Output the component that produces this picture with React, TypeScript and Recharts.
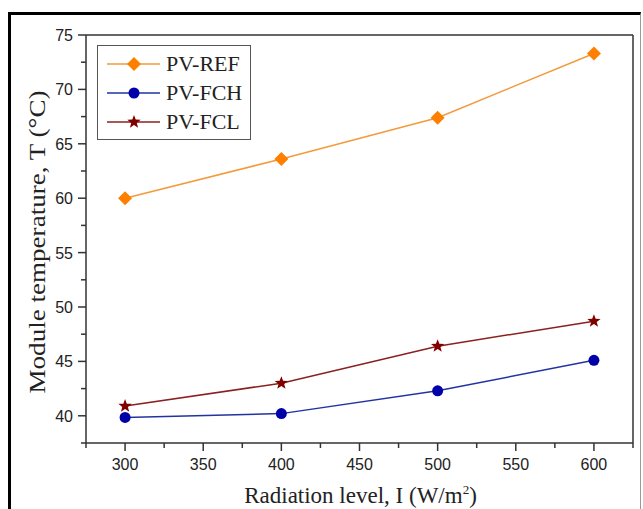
import React from "react";
import { LineChart, Line, XAxis, YAxis, Legend, ReferenceLine } from "recharts";

// radiation level, W/m2
const radiation = [300, 400, 500, 600];

// module temperature, deg C
const pvRef = [60.0, 63.6, 67.4, 73.3];
const pvFch = [39.85, 40.2, 42.3, 45.1];
const pvFcl = [40.9, 43.0, 46.4, 48.7];

const seriesOrder = ["ref", "fch", "fcl"];
const seriesNames = ["PV-REF", "PV-FCH", "PV-FCL"];

const xTicks = [275, 300, 325, 350, 375, 400, 425, 450, 475, 500, 525, 550, 575, 600, 625];
const yTicks = [37.5, 40, 42.5, 45, 47.5, 50, 52.5, 55, 57.5, 60, 62.5, 65, 67.5, 70, 72.5, 75];

const data = radiation.map((r, i) => ({
  radiation: r,
  ref: pvRef[i],
  fch: pvFch[i],
  fcl: pvFcl[i],
}));

const SANS = "'Liberation Sans', Arial, sans-serif";
const SERIF = "'Liberation Serif', 'Times New Roman', serif";
const AXIS = "#333";

const REF_COLOR = "#ff7f00";
const FCH_COLOR = "#0000a8";
const FCL_COLOR = "#800000";

function Diamond({ cx, cy, r = 7, fill }: any) {
  if (cx == null || cy == null) return null;
  return <path d={`M${cx},${cy - r}L${cx + r},${cy}L${cx},${cy + r}L${cx - r},${cy}Z`} fill={fill} />;
}

function Circle({ cx, cy, r = 5.5, fill }: any) {
  if (cx == null || cy == null) return null;
  return <circle cx={cx} cy={cy} r={r} fill={fill} />;
}

function Star({ cx, cy, r = 7, fill }: any) {
  if (cx == null || cy == null) return null;
  const pts: string[] = [];
  for (let k = 0; k < 10; k++) {
    const rad = k % 2 === 0 ? r : r * 0.42;
    const a = -Math.PI / 2 + (k * Math.PI) / 5;
    pts.push(`${cx + rad * Math.cos(a)},${cy + rad * Math.sin(a)}`);
  }
  return <polygon points={pts.join(" ")} fill={fill} />;
}

const markers: Record<string, any> = {
  ref: { shape: Diamond, color: REF_COLOR, line: "#f39a3c" },
  fch: { shape: Circle, color: FCH_COLOR, line: "#2233a0" },
  fcl: { shape: Star, color: FCL_COLOR, line: "#8a2020" },
};

function XTick({ x, y, payload }: any) {
  const v = payload.value;
  const major = v % 50 === 0 && v !== 275 && v !== 625;
  return (
    <g>
      <line x1={x} y1={y} x2={x} y2={y + (major ? 8 : 5)} stroke={AXIS} strokeWidth={1.5} />
      {major && (
        <text x={x} y={y + 27} textAnchor="middle" fontFamily={SANS} fontSize={16} fill="#222">
          {v}
        </text>
      )}
    </g>
  );
}

function YTick({ x, y, payload }: any) {
  const v = payload.value;
  const major = v % 5 === 0;
  return (
    <g>
      <line x1={x} y1={y} x2={x - (major ? 8 : 5)} y2={y} stroke={AXIS} strokeWidth={1.5} />
      {major && (
        <text x={x - 13} y={y + 6} textAnchor="end" fontFamily={SANS} fontSize={16} fill="#222">
          {v}
        </text>
      )}
    </g>
  );
}

function YTitle({ viewBox }: any) {
  const cx = viewBox.x + 45;
  const cy = viewBox.y + viewBox.height / 2 + 3;
  return (
    <text
      x={cx}
      y={cy}
      transform={`rotate(-90, ${cx}, ${cy})`}
      textAnchor="middle"
      fontFamily={SERIF}
      fontSize={24}
      textLength={303}
      lengthAdjust="spacingAndGlyphs"
      fill="#222"
    >
      Module temperature, T (°C)
    </text>
  );
}

function XTitle({ viewBox }: any) {
  const cx = viewBox.x + viewBox.width / 2 + 1;
  const cy = viewBox.y + 60;
  return (
    <text x={cx} y={cy} textAnchor="middle" fontFamily={SERIF} fontSize={23} fill="#222">
      Radiation level, I (W/m
      <tspan dy={-9} fontSize={13}>2</tspan>
      <tspan dy={9}>)</tspan>
    </text>
  );
}

function LegendBox({ payload }: any) {
  const items = seriesOrder
    .map((key) => (payload || []).find((e: any) => e.dataKey === key))
    .filter(Boolean);
  return (
    <div
      style={{
        border: "1.5px solid #555",
        padding: "3px 0 3px 0",
        background: "#fff",
        width: 154,
        boxSizing: "border-box",
      }}
    >
      {items.map((entry: any) => {
        const m = markers[entry.dataKey];
        const Shape = m.shape;
        return (
          <div key={entry.dataKey} style={{ display: "flex", alignItems: "center", height: 29 }}>
            <svg width={68} height={20} style={{ flex: "none" }}>
              <line x1={9} y1={10} x2={62} y2={10} stroke={m.line} strokeWidth={1.5} />
              <Shape cx={36} cy={10} fill={m.color} />
            </svg>
            <span style={{ fontFamily: SERIF, fontSize: 22, color: "#222", lineHeight: "22px" }}>
              {entry.value}
            </span>
          </div>
        );
      })}
    </div>
  );
}

export default function App() {
  return (
    <div style={{ position: "absolute", left: 0, top: 0, width: 643, height: 509, background: "#fff" }}>
      <div
        style={{
          position: "absolute",
          left: 8,
          top: 12,
          width: 633,
          height: 520,
          borderLeft: "3px solid #000",
          borderTop: "3px solid #000",
          borderRight: "1.5px solid #999",
          boxSizing: "border-box",
        }}
      />
      <div style={{ position: "absolute", left: 0, top: 0 }}>
        <LineChart width={643} height={509} data={data} margin={{ top: 35, right: 10, left: 0, bottom: 0 }}>
          <XAxis
            dataKey="radiation"
            type="number"
            domain={[275, 625]}
            ticks={xTicks}
            interval={0}
            height={66}
            tickSize={0}
            tickMargin={0}
            tickLine={false}
            tick={<XTick />}
            axisLine={{ stroke: AXIS, strokeWidth: 1.5 }}
            label={{ content: XTitle }}
          />
          <YAxis
            type="number"
            domain={[37.5, 75]}
            ticks={yTicks}
            interval={0}
            width={86}
            tickSize={0}
            tickMargin={0}
            tickLine={false}
            tick={<YTick />}
            axisLine={{ stroke: AXIS, strokeWidth: 1.5 }}
            label={{ content: YTitle }}
          />
          <ReferenceLine x={625} stroke={AXIS} strokeWidth={1.5} />
          <ReferenceLine y={75} stroke={AXIS} strokeWidth={1.5} />
          <Legend
            layout="vertical"
            align="center"
            verticalAlign="middle"
            content={<LegendBox />}
            wrapperStyle={{ left: 97, top: 45, width: 154 }}
          />
          <Line
            dataKey="ref"
            name={seriesNames[0]}
            stroke={markers.ref.line}
            strokeWidth={1.5}
            dot={(p: any) => <Diamond key={`r${p.index}`} cx={p.cx} cy={p.cy} fill={REF_COLOR} />}
            isAnimationActive={false}
          />
          <Line
            dataKey="fch"
            name={seriesNames[1]}
            stroke={markers.fch.line}
            strokeWidth={1.5}
            dot={(p: any) => <Circle key={`h${p.index}`} cx={p.cx} cy={p.cy} fill={FCH_COLOR} />}
            isAnimationActive={false}
          />
          <Line
            dataKey="fcl"
            name={seriesNames[2]}
            stroke={markers.fcl.line}
            strokeWidth={1.5}
            dot={(p: any) => <Star key={`l${p.index}`} cx={p.cx} cy={p.cy} fill={FCL_COLOR} />}
            isAnimationActive={false}
          />
        </LineChart>
      </div>
    </div>
  );
}
